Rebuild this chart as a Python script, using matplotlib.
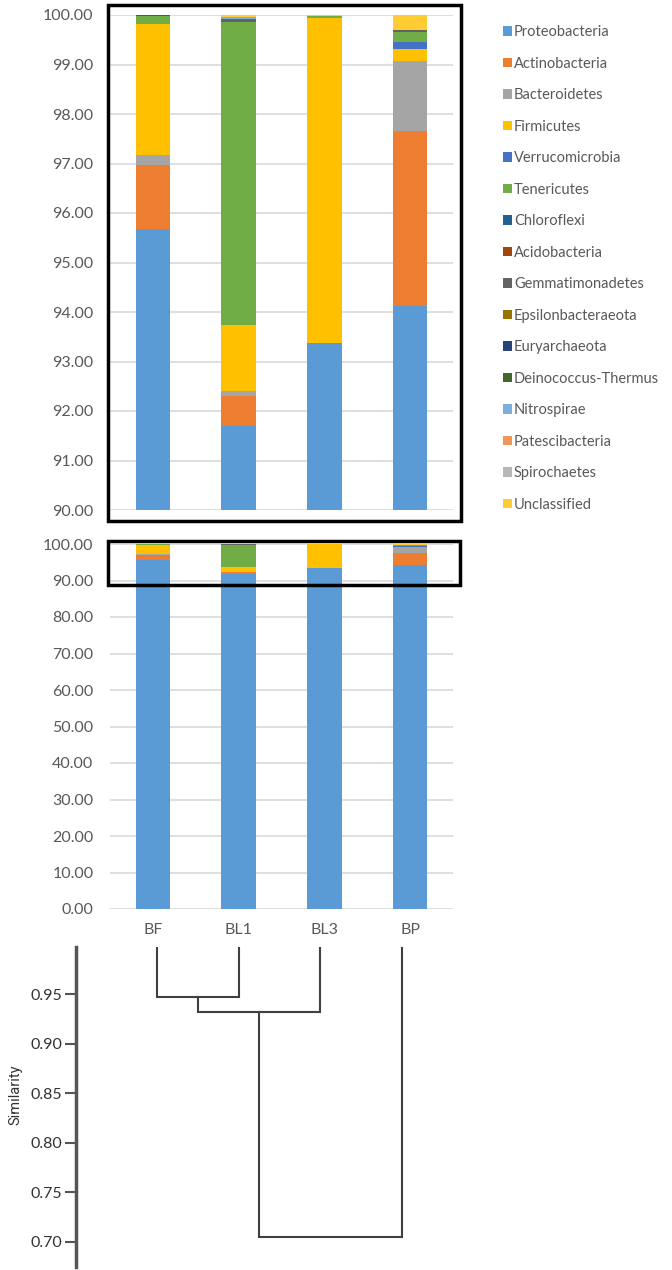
import matplotlib
matplotlib.use("Agg")
import matplotlib.pyplot as plt
from matplotlib.patches import Rectangle, Patch
import numpy as np

plt.rcParams["font.family"] = ["Lato", "DejaVu Sans"]

W, H = 672, 1270

# ---- data ------------------------------------------------------------------
samples = ["BF", "BL1", "BL3", "BP"]
phyla = ["Proteobacteria", "Actinobacteria", "Bacteroidetes", "Firmicutes",
         "Verrucomicrobia", "Tenericutes", "Chloroflexi", "Acidobacteria",
         "Gemmatimonadetes", "Epsilonbacteraeota", "Euryarchaeota",
         "Deinococcus-Thermus", "Nitrospirae", "Patescibacteria",
         "Spirochaetes", "Unclassified"]
colors = ["#5B9BD5", "#ED7D31", "#A5A5A5", "#FFC000", "#4472C4", "#70AD47",
          "#255E91", "#9E480E", "#636363", "#997300", "#264478", "#43682B",
          "#7CAFDD", "#F1975A", "#B7B7B7", "#FFCD33"]

# relative abundance (%) per phylum, order = samples
proteobacteria    = [95.67, 91.70, 93.38, 94.12]
actinobacteria    = [1.30, 0.61, 0.00, 3.54]
bacteroidetes     = [0.20, 0.09, 0.00, 1.41]
firmicutes        = [2.64, 1.34, 6.55, 0.24]
verrucomicrobia   = [0.00, 0.00, 0.00, 0.15]
tenericutes       = [0.16, 6.12, 0.05, 0.19]
chloroflexi       = [0.00, 0.00, 0.00, 0.00]
acidobacteria     = [0.01, 0.00, 0.00, 0.00]
gemmatimonadetes  = [0.00, 0.06, 0.00, 0.05]
epsilonbacteraeota = [0.00, 0.00, 0.00, 0.00]
euryarchaeota     = [0.00, 0.00, 0.00, 0.00]
deinococcus       = [0.02, 0.00, 0.00, 0.00]
nitrospirae       = [0.00, 0.03, 0.00, 0.00]
patescibacteria   = [0.00, 0.00, 0.00, 0.00]
spirochaetes      = [0.00, 0.00, 0.00, 0.00]
unclassified      = [0.00, 0.05, 0.02, 0.30]

abundance = [proteobacteria, actinobacteria, bacteroidetes, firmicutes,
             verrucomicrobia, tenericutes, chloroflexi, acidobacteria,
             gemmatimonadetes, epsilonbacteraeota, euryarchaeota, deinococcus,
             nitrospirae, patescibacteria, spirochaetes, unclassified]

# dendrogram merges (UPGMA-style), similarity at each join
leaf_top = 0.998
merges = [(("BF", "BL1"), 0.947), (("BF+BL1", "BL3"), 0.932), (("BF+BL1+BL3", "BP"), 0.705)]
sim_ticks = [0.70, 0.75, 0.80, 0.85, 0.90, 0.95]

GRID = "#D9D9D9"
TXT = "#595959"


def px_axes(x0, y0, x1, y1):
    """axes from pixel box (top-left origin)"""
    return fig.add_axes([x0 / W, 1 - y1 / H, (x1 - x0) / W, (y1 - y0) / H])


def stacked(ax):
    x = np.arange(len(samples))
    bottom = np.zeros(len(samples))
    for vals, c in zip(abundance, colors):
        ax.bar(x, vals, bottom=bottom, width=0.4, color=c, linewidth=0, zorder=3)
        bottom += np.array(vals)
    ax.set_xlim(-0.5, 3.5)
    for s in ax.spines.values():
        s.set_visible(False)
    ax.grid(axis="y", color=GRID, linewidth=1.2, zorder=0)
    ax.tick_params(axis="y", length=0, labelsize=11.5, labelcolor=TXT, pad=12)
    ax.yaxis.set_major_formatter(matplotlib.ticker.FormatStrFormatter("%.2f"))


fig = plt.figure(figsize=(W / 100, H / 100), dpi=100)

# ---- zoomed top chart ------------------------------------------------------
ax1 = px_axes(110, 15, 453, 510)
stacked(ax1)
ax1.set_ylim(90, 100)
ax1.set_yticks(np.arange(90, 100.5, 1))
ax1.set_xticks([])

# ---- full chart ------------------------------------------------------------
ax2 = px_axes(110, 544, 453, 909)
stacked(ax2)
ax2.set_ylim(0, 100)
ax2.set_yticks(np.arange(0, 101, 10))
ax2.set_xticks(np.arange(len(samples)))
ax2.set_xticklabels(samples)
ax2.tick_params(axis="x", length=0, labelsize=11.5, labelcolor=TXT, pad=10)

# black frames: zoom window and the region it magnifies
fig.patches.append(Rectangle((108 / W, 1 - 521 / H), (461 - 108) / W, (521 - 5) / H,
                             transform=fig.transFigure, fill=False,
                             edgecolor="black", linewidth=2.5, zorder=10))
fig.patches.append(Rectangle((108 / W, 1 - 585 / H), (460 - 108) / W, (585 - 541) / H,
                             transform=fig.transFigure, fill=False,
                             edgecolor="black", linewidth=2.5, zorder=10))

# legend
handles = [Patch(facecolor=c, edgecolor="none") for c in colors]
fig.legend(handles, phyla, loc="upper left", bbox_to_anchor=(490 / W, 1 - 12 / H),
           frameon=False, fontsize=10.5, labelcolor=TXT, handlelength=0.6,
           handleheight=0.6, handletextpad=0.15, labelspacing=1.2)

# ---- dendrogram ------------------------------------------------------------
ax3 = px_axes(76, 947, 460, 1267)
leaf_x = {s: float(i) for i, s in enumerate(samples)}
leaf_h = {s: leaf_top for s in samples}
for (a, b), sim in merges:
    xa, xb = leaf_x[a], leaf_x[b]
    ha, hb = leaf_h[a], leaf_h[b]
    ax3.plot([xa, xa, xb, xb], [ha, sim, sim, hb], color="#404040", linewidth=1.5,
             solid_joinstyle="miter")
    name = a + "+" + b
    leaf_x[name] = (xa + xb) / 2
    leaf_h[name] = sim
ax3.set_xlim(-0.991, 3.709)
ax3.set_ylim(0.6744, 0.9975)
for k in ["top", "right", "bottom"]:
    ax3.spines[k].set_visible(False)
ax3.spines["left"].set_linewidth(2.5)
ax3.spines["left"].set_color("#555555")
ax3.set_xticks([])
ax3.set_yticks(sim_ticks)
ax3.yaxis.set_major_formatter(matplotlib.ticker.FormatStrFormatter("%.2f"))
ax3.tick_params(axis="y", length=8, width=1.5, color="#555555", labelsize=11.5,
                labelcolor="#333333", pad=2)
fig.text(15 / W, 1 - 1095 / H, "Similarity", rotation=90, ha="center", va="center",
         fontsize=10.5, color="#333333", family=["Roboto", "DejaVu Sans"], stretch="condensed")

fig.savefig("out.png", dpi=100)
